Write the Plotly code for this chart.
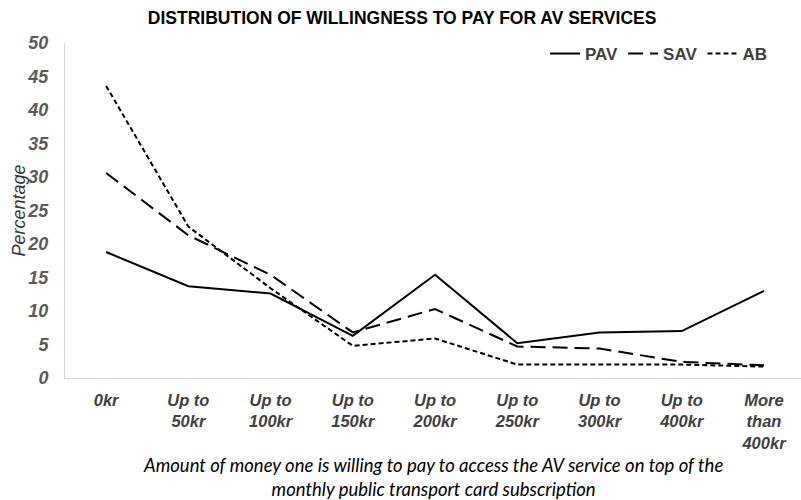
import plotly.graph_objects as go

categories = ["0kr", "Up to<br>50kr", "Up to<br>100kr", "Up to<br>150kr", "Up to<br>200kr",
              "Up to<br>250kr", "Up to<br>300kr", "Up to<br>400kr", "More<br>than<br>400kr"]
pav = [18.8, 13.7, 12.6, 6.3, 15.4, 5.2, 6.8, 7.0, 13.0]
sav = [30.6, 21.3, 15.4, 6.8, 10.3, 4.7, 4.4, 2.4, 1.9]
ab = [43.6, 22.6, 13.4, 4.8, 5.9, 2.0, 2.0, 2.0, 1.7]
yticks = [0, 5, 10, 15, 20, 25, 30, 35, 40, 45, 50]

fig = go.Figure()
fig.add_trace(go.Scatter(x=categories, y=pav, mode="lines", name="PAV",
                         line=dict(color="black", width=2, dash="solid")))
fig.add_trace(go.Scatter(x=categories, y=sav, mode="lines", name="SAV",
                         line=dict(color="black", width=2, dash="15px,7px")))
fig.add_trace(go.Scatter(x=categories, y=ab, mode="lines", name="AB",
                         line=dict(color="black", width=2, dash="5px,3px")))

fig.update_layout(
    width=801, height=500,
    margin=dict(l=65, r=0, t=43, b=122),
    plot_bgcolor="white", paper_bgcolor="white",
    title=dict(text="<b>DISTRIBUTION OF WILLINGNESS TO PAY FOR AV SERVICES</b>",
               x=0.502, xanchor="center", xref="container", y=0.964, yanchor="middle",
               font=dict(family="Liberation Sans", size=17.5, color="black")),
    showlegend=True,
    legend=dict(orientation="h", x=0.962, xanchor="right", y=1.021, yanchor="top",
                font=dict(family="Liberation Sans", size=17, color="#404040", weight="bold"),
                bgcolor="rgba(0,0,0,0)", itemwidth=30, tracegroupgap=0),
    xaxis=dict(type="category", range=[-0.5, 8.45], showgrid=False, automargin=False,
               showline=True, linecolor="#d9d9d9", linewidth=1, ticks="",
               ticklabelstandoff=7,
               tickfont=dict(family="Liberation Sans", size=16.5, color="#404040",
                             weight="bold", style="italic")),
    yaxis=dict(range=[0, 50], tickvals=yticks, showgrid=False, zeroline=False, automargin=False,
               showline=True, linecolor="#d9d9d9", linewidth=1, ticks="",
               ticklabelstandoff=12,
               tickfont=dict(family="Liberation Sans", size=18, color="#595959",
                             weight="bold", style="italic")),
    annotations=[
        dict(text="Amount of money one is willing to pay to access the AV service on top of the<br>monthly public transport card subscription",
             xref="paper", yref="paper", x=0.5, y=0, xanchor="center", yanchor="top",
             yshift=-74, showarrow=False,
             font=dict(family="Lato", size=18.5, color="black", style="italic")),
        dict(text="Percentage", xref="paper", yref="paper", x=0, y=0.5,
             xanchor="center", yanchor="middle", xshift=-47, textangle=-90, showarrow=False,
             font=dict(family="Liberation Sans", size=18, color="#333333", style="italic")),
    ],
)

fig.write_html("out.html", config={"displayModeBar": False},
               post_script="document.body.style.margin='0px';")
